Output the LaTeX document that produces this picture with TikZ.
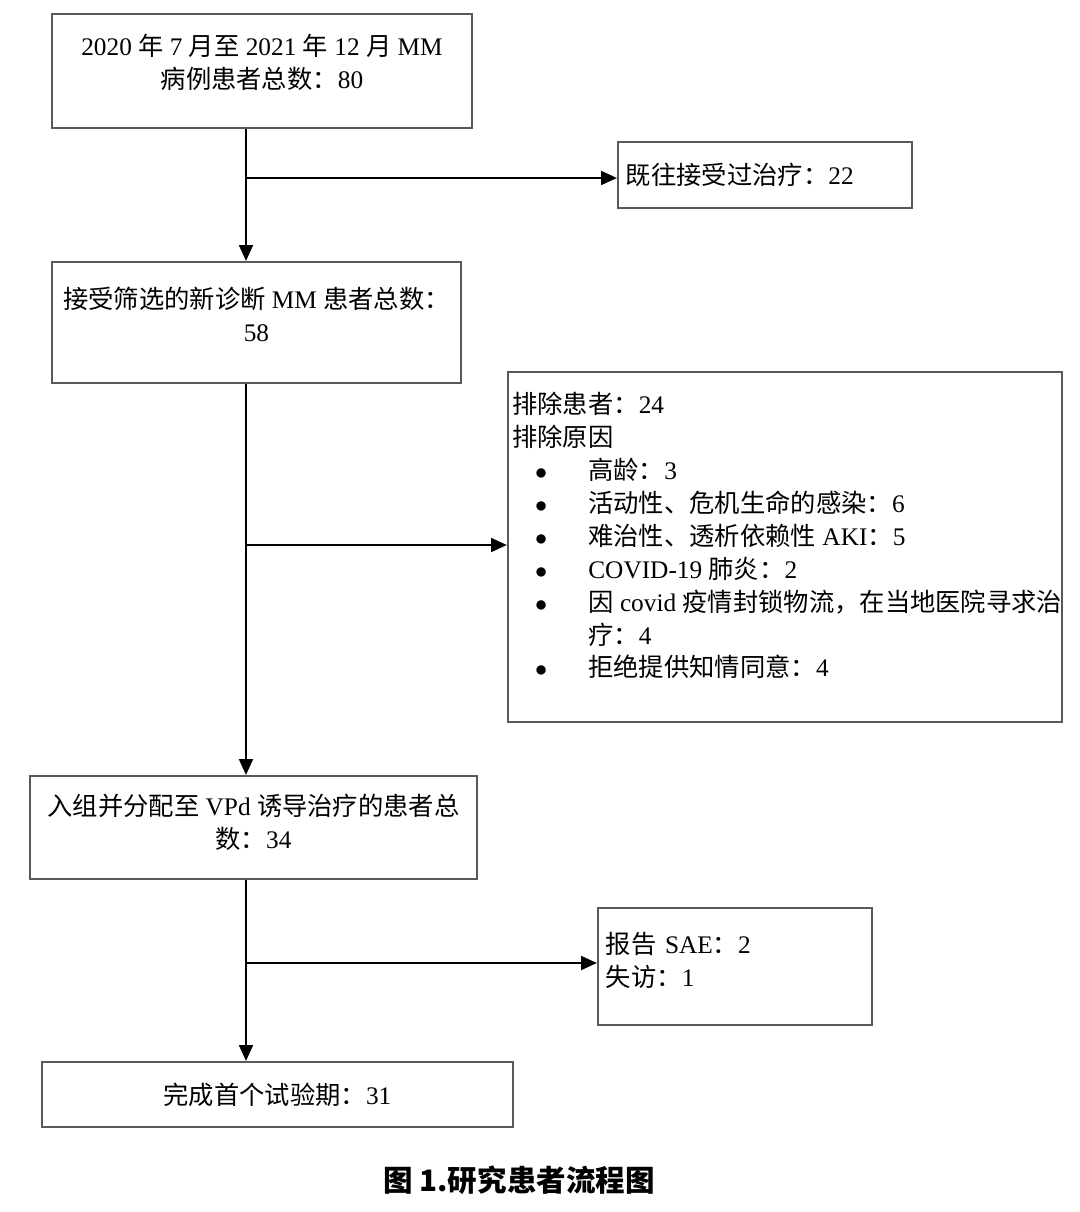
\documentclass[tikz,border=0pt]{standalone}
\usepackage{fontspec}
\setmainfont{Liberation Serif}
\newfontfamily\cjk{Noto Sans CJK SC}
\usepackage{tikz}
\usetikzlibrary{positioning,arrows.meta}
\usepackage{xcolor}
\newcommand\zh[1]{{\cjk #1}}
\newcommand\itm{\hspace*{0.55cm}\makebox[10pt]{$\bullet$}\hspace*{1.0cm}}
\newcommand\itmcont{\hspace*{0.55cm}\makebox[10pt]{}\hspace*{1.0cm}}

\begin{document}
\begin{tikzpicture}[x=0.025cm,y=-0.025cm,>={Triangle[length=4mm,width=3.4mm]},
  box/.style={draw=black!65,line width=1.3pt,inner sep=4pt,font=\fontsize{18}{23.4}\selectfont},
  arr/.style={->,line width=2.1pt}]
\useasboundingbox (0,0) rectangle (1080,1212);
\node[box,minimum width=10.5cm,minimum height=2.85cm,align=center] (total) at (262,71) {2020 \zh{年} 7 \zh{月至} 2021 \zh{年} 12 \zh{月} MM\\ \zh{病例患者总数：}80\\[-10pt]};
\node[box,minimum width=7.35cm,minimum height=1.65cm,text width=6.95cm,align=left] (prior) at (765,175) {\zh{既往接受过治疗：}22};
\node[box,minimum width=10.225cm,minimum height=3.025cm,align=center] (screen) at (256.5,322.5) {\zh{接受筛选的新诊断} MM \zh{患者总数：}\\ 58\\[-12pt]};
\node[box,minimum width=13.85cm,minimum height=8.75cm] (excl) at (785,547) {};
\node[anchor=north west,inner sep=0pt,align=left,font=\fontsize{18}{23.4}\selectfont] (excltxt) at (512,392) {\zh{排除患者：}24\\ \zh{排除原因}\\
  \itm\zh{高龄：}3\\
  \itm\zh{活动性、危机生命的感染：}6\\
  \itm\zh{难治性、透析依赖性} AKI\zh{：}5\\
  \itm COVID-19 \zh{肺炎：}2\\
  \itm\zh{因} covid \zh{疫情封锁物流，在当地医院寻求治}\\
  \itmcont\zh{疗：}4\\
  \itm\zh{拒绝提供知情同意：}4};
\node[box,minimum width=11.175cm,minimum height=2.575cm,align=center] (enrol) at (253.5,827.5) {\zh{入组并分配至} VPd \zh{诱导治疗的患者总}\\ \zh{数：}34\\[-14pt]};
\node[box,minimum width=6.85cm,minimum height=2.925cm,text width=6.45cm,align=left] (sae) at (735,966.5) {\zh{报告} SAE\zh{：}2\\ \zh{失访：}1\\[-13pt]\mbox{}};
\node[box,minimum width=11.775cm,minimum height=1.625cm,align=center] (done) at (277.5,1094.5) {\zh{完成首个试验期：}31};
\node[font=\cjk\bfseries\fontsize{21}{25}\selectfont] (cap) at (519,1180) {图 1.研究患者流程图};
\coordinate (b1) at (246,178);
\coordinate (b2) at (246,545);
\coordinate (b3) at (246,963);
\draw[arr] (total.south -| b1) -- (screen.north -| b1);
\draw[arr] (b1) -- (b1 -| prior.west);
\draw[arr] (screen.south -| b2) -- (enrol.north -| b2);
\draw[arr] (b2) -- (b2 -| excl.west);
\draw[arr] (enrol.south -| b3) -- (done.north -| b3);
\draw[arr] (b3) -- (b3 -| sae.west);
\end{tikzpicture}
\end{document}
